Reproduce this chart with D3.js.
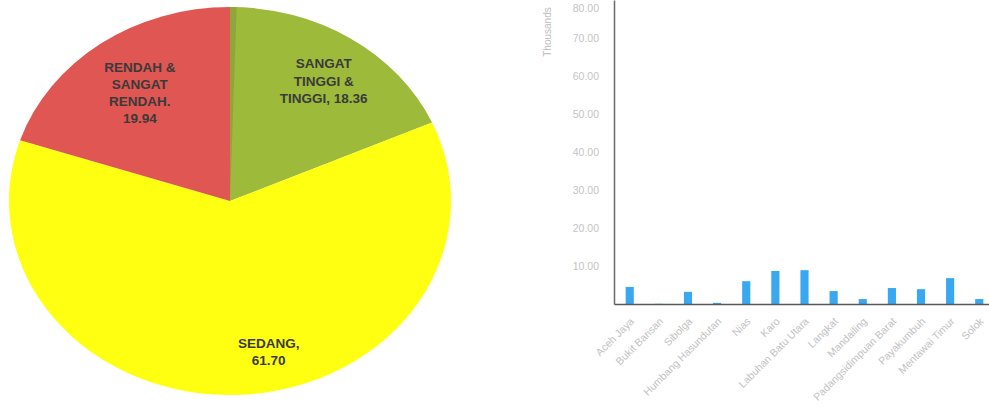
<!DOCTYPE html>
<html><head><meta charset="utf-8">
<script src="https://cdn.jsdelivr.net/npm/d3@7"></script>
<style>
html,body{margin:0;padding:0;background:#fff;}
svg{display:block;}
</style></head>
<body>
<svg id="c" width="989" height="409"></svg>
<script>
// ---------- data ----------
const pieCategories = ["SANGAT TINGGI & TINGGI", "SEDANG", "RENDAH & SANGAT RENDAH"];
const pieValues = [18.36, 61.70, 19.94];
const pieLabelLines = [
  ["SANGAT", "TINGGI &", "TINGGI, 18.36"],
  ["SEDANG,", "61.70"],
  ["RENDAH &", "SANGAT", "RENDAH.", "19.94"]
];
const pieColors = ["#9dba3a", "#ffff12", "#e05652"];

const barCategories = ["Aceh Jaya", "Bukit Barisan", "Sibolga", "Humbang Hasundutan", "Nias", "Karo",
  "Labuhan Batu Utara", "Langkat", "Mandailing", "Padangsidimpuan Barat", "Payakumbuh", "Mentawai Timur", "Solok"];
const barValues = [4.5, 0.05, 3.2, 0.3, 6.0, 8.7, 8.9, 3.4, 1.3, 4.2, 3.9, 6.8, 1.3]; // thousands
const yTicks = [10, 20, 30, 40, 50, 60, 70, 80];
const yAxisTitle = "Thousands";

const svg = d3.select("#c");

// ---------- pie ----------
const cx = 230, cy = 201, rx = 221, ry = 194;
const pieG = svg.append("g").attr("transform", `translate(${cx},${cy}) scale(1,${ry/rx})`);
const arcs = d3.pie().sort(null).value(d => d)(pieValues);
const arcGen = d3.arc().innerRadius(0).outerRadius(rx);
pieG.selectAll("path.slice").data(arcs).join("path")
  .attr("class", "slice")
  .attr("d", arcGen)
  .attr("fill", (d, i) => pieColors[i]);
// darker edge strip along the start of the first slice
pieG.append("path")
  .attr("d", d3.arc().innerRadius(0).outerRadius(rx)({startAngle: arcs[0].startAngle, endAngle: arcs[0].startAngle + 0.03}))
  .attr("fill", "#8ea63a");

// label layout: polar position (angle in radians clockwise from top, radius) relative to centre
const labelLayout = [
  {angle: 0.60, r: 166, lh: 17.5},
  {angle: 2.92, r: 176, lh: 17},
  {angle: -0.63, r: 153, lh: 17}
];
const labG = svg.append("g");
arcs.forEach((a, i) => {
  const L = labelLayout[i];
  const x = cx + Math.sin(L.angle) * L.r;
  const y = cy - Math.cos(L.angle) * L.r * (ry / rx);
  const lines = pieLabelLines[i];
  const t = labG.append("text")
    .attr("x", x).attr("y", y)
    .attr("text-anchor", "middle")
    .attr("font-family", "Liberation Sans, Arial, sans-serif")
    .attr("font-weight", "bold")
    .attr("font-size", 13.5)
    .attr("fill", "#3a3a3a");
  lines.forEach((ln, j) => {
    t.append("tspan").attr("x", x)
      .attr("y", y + (j - (lines.length - 1) / 2) * L.lh + 5)
      .text(ln);
  });
});

// ---------- bar chart ----------
const x0 = 614, x1 = 995, y0 = 304;
const xScale = d3.scaleBand().domain(barCategories).range([x0, x1]).paddingInner(0.72).paddingOuter(0.4);
const yScale = d3.scaleLinear().domain([0, 80]).range([y0, 0]);

const barG = svg.append("g");
barG.selectAll("rect").data(barValues).join("rect")
  .attr("x", (d, i) => xScale(barCategories[i]))
  .attr("y", d => yScale(d))
  .attr("width", xScale.bandwidth())
  .attr("height", d => y0 - yScale(d))
  .attr("fill", "#3aa8f0");

// y axis
const yAxis = d3.axisLeft(yScale).tickValues(yTicks).tickFormat(d3.format(".2f")).tickSize(0).tickPadding(15);
const yg = svg.append("g").attr("transform", `translate(${x0},0)`).call(yAxis);
yg.select(".domain").attr("stroke", "#6a6a6a").attr("stroke-width", 1.5);
yg.selectAll("text").attr("fill", "#c4c4c4").attr("font-size", 10.5)
  .attr("font-family", "Liberation Sans, Arial, sans-serif")
  .attr("dy", d => d === 80 ? "1.05em" : "0.32em");

svg.append("text")
  .attr("transform", `translate(551,32) rotate(-90)`)
  .attr("text-anchor", "middle")
  .attr("font-family", "Liberation Sans, Arial, sans-serif")
  .attr("font-size", 10)
  .attr("fill", "#bdbdbd")
  .text(yAxisTitle);

// x axis
const xAxis = d3.axisBottom(xScale).tickSize(0).tickPadding(0);
const xg = svg.append("g").attr("transform", `translate(0,${y0})`).call(xAxis);
xg.select(".domain").attr("stroke", "#5a5a5a").attr("stroke-width", 1.5);
xg.selectAll("text")
  .attr("font-family", "Liberation Sans, Arial, sans-serif")
  .attr("font-size", 10.5)
  .attr("fill", "#c2c2c2")
  .attr("text-anchor", "end")
  .attr("dy", 0)
  .attr("transform", d => `translate(5,18) rotate(-45)`);
</script>
</body></html>
